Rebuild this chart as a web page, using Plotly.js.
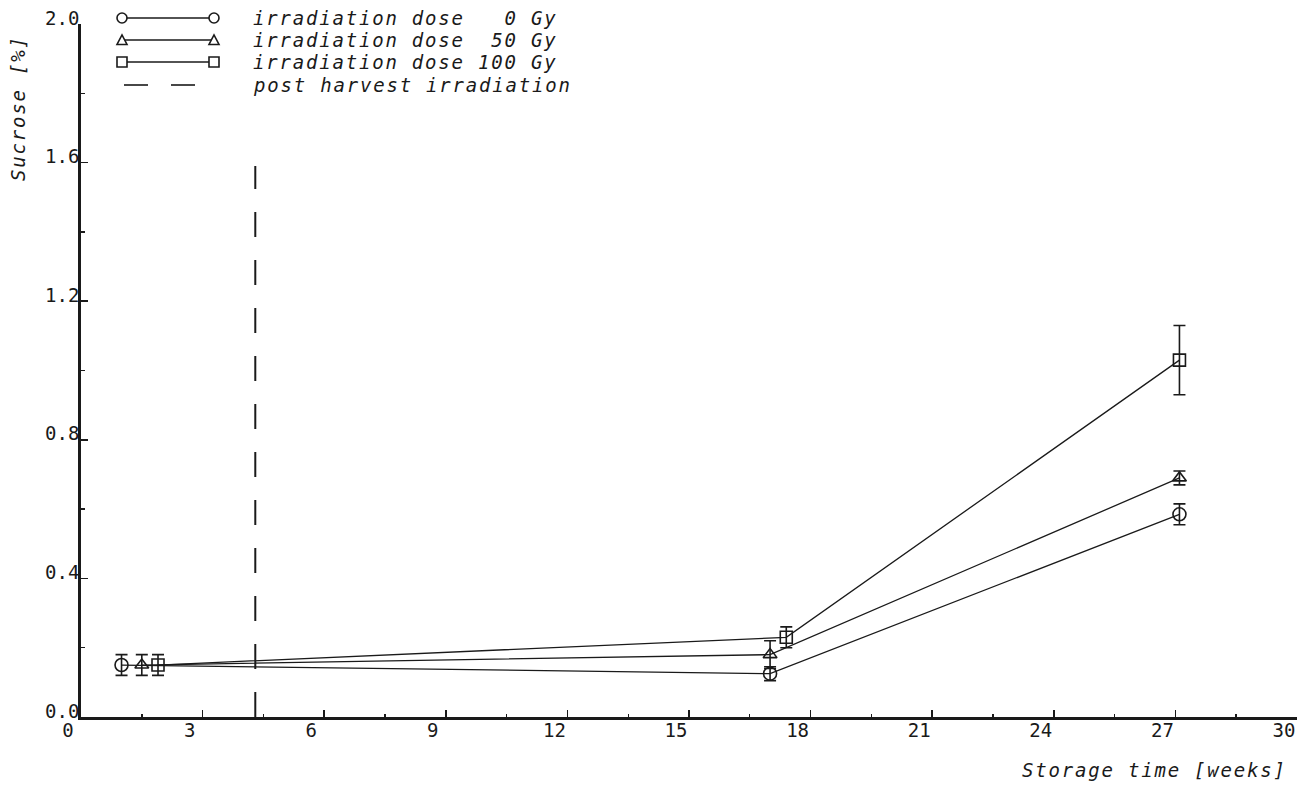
<!DOCTYPE html>
<html>
<head>
<meta charset="utf-8">
<script src="https://cdn.plot.ly/plotly-3.0.1.min.js"></script>
<style>
html,body{margin:0;padding:0;background:#fff;}
#chart{width:1309px;height:785px;}
.annotation-text{letter-spacing:1.8px;}
</style>
</head>
<body>
<div id="chart"></div>
<script>
// ---- data ----
var weeks0 = [1.0, 17.0, 27.1];
var sucrose0 = [0.15, 0.125, 0.585];
var err0 = [0.03, 0.02, 0.03];

var weeks50 = [1.5, 17.0, 27.1];
var sucrose50 = [0.15, 0.18, 0.69];
var err50 = [0.03, 0.04, 0.02];

var weeks100 = [1.9, 17.4, 27.1];
var sucrose100 = [0.15, 0.23, 1.03];
var err100 = [0.03, 0.03, 0.10];

var irradiationWeek = [4.3, 4.3];
var irradiationLine = [0, 1.59];

var seriesNames = ['irradiation dose\u00A0\u00A0\u00A00 Gy', 'irradiation dose\u00A0\u00A050 Gy', 'irradiation dose 100 Gy', 'post harvest irradiation'];
var xTicks = [0, 3, 6, 9, 12, 15, 18, 21, 24, 27, 30];
var yTicks = [0, 0.4, 0.8, 1.2, 1.6, 2.0];

// ---- layout helpers ----
var W = 1309, H = 785;
var M = {l: 81, r: 12, t: 24, b: 68};
var pw = W - M.l - M.r, ph = H - M.t - M.b;
function px(x) { return (x - M.l) / pw; }
function py(y) { return (H - M.b - y) / ph; }

var INK = '#1a1a1a';
var mono = '"DejaVu Sans Mono", "Liberation Mono", monospace';

function series(x, y, e, sym, size, name) {
  return {
    x: x, y: y, name: name, type: 'scatter', mode: 'lines+markers',
    line: {color: INK, width: 1.3},
    marker: {symbol: sym, size: size, color: INK, line: {color: INK, width: 1.6}},
    error_y: {type: 'data', array: e, visible: true, color: INK, thickness: 1.6, width: 6},
    showlegend: false, hoverinfo: 'x+y'
  };
}

var traces = [
  series(weeks0, sucrose0, err0, 'circle-open', 13, seriesNames[0]),
  series(weeks50, sucrose50, err50, 'triangle-up-open', 12, seriesNames[1]),
  series(weeks100, sucrose100, err100, 'square-open', 12, seriesNames[2]),
  {x: irradiationWeek, y: irradiationLine, type: 'scatter', mode: 'lines', name: seriesNames[3],
   line: {color: INK, width: 2, dash: '25px,23px'}, showlegend: false, hoverinfo: 'skip'}
];

// ---- custom legend (shapes + annotations) ----
var shapes = [];
var annotations = [];
var rows = [18, 40, 62, 85];
var lx0 = 122, lx1 = 214, tx = 251;
function markerShape(kind, cx, cy) {
  var r = 5;
  if (kind === 'circle') {
    return {type: 'circle', xref: 'paper', yref: 'paper', x0: px(cx - r), x1: px(cx + r), y0: py(cy + r), y1: py(cy - r), line: {color: INK, width: 1.6}, fillcolor: 'white'};
  } else if (kind === 'rect') {
    return {type: 'rect', xref: 'paper', yref: 'paper', x0: px(cx - r), x1: px(cx + r), y0: py(cy + r), y1: py(cy - r), line: {color: INK, width: 1.6}, fillcolor: 'white'};
  } else {
    var p = 'M' + px(cx - r) + ',' + py(cy + 4.5) + ' L' + px(cx + r) + ',' + py(cy + 4.5) + ' L' + px(cx) + ',' + py(cy - 5) + ' Z';
    return {type: 'path', xref: 'paper', yref: 'paper', path: p, line: {color: INK, width: 1.6}, fillcolor: 'white'};
  }
}
var kinds = ['circle', 'tri', 'rect'];
for (var i = 0; i < 3; i++) {
  shapes.push({type: 'line', xref: 'paper', yref: 'paper', x0: px(lx0), x1: px(lx1), y0: py(rows[i]), y1: py(rows[i]), line: {color: INK, width: 1.3}});
  shapes.push(markerShape(kinds[i], lx0, rows[i]));
  shapes.push(markerShape(kinds[i], lx1, rows[i]));
}
shapes.push({type: 'line', xref: 'paper', yref: 'paper', x0: px(124), x1: px(148), y0: py(rows[3]), y1: py(rows[3]), line: {color: INK, width: 1.6}});
shapes.push({type: 'line', xref: 'paper', yref: 'paper', x0: px(171), x1: px(195), y0: py(rows[3]), y1: py(rows[3]), line: {color: INK, width: 1.6}});
for (var j = 0; j < 4; j++) {
  annotations.push({xref: 'paper', yref: 'paper', x: px(tx), y: py(rows[j]), xanchor: 'left', yanchor: 'middle', showarrow: false,
    text: seriesNames[j], font: {family: mono, size: 19, color: INK, style: 'italic'}});
}
// axis titles
annotations.push({xref: 'paper', yref: 'paper', x: px(1020), y: py(770), xanchor: 'left', yanchor: 'middle', showarrow: false,
  text: 'Storage time [weeks]', font: {family: mono, size: 19, color: INK, style: 'italic'}});
annotations.push({xref: 'paper', yref: 'paper', x: px(18), y: py(108), xanchor: 'center', yanchor: 'middle', showarrow: false, textangle: -90,
  text: 'Sucrose [%]', font: {family: mono, size: 19, color: INK, style: 'italic'}});

var layout = {
  width: W, height: H,
  margin: M,
  paper_bgcolor: 'white', plot_bgcolor: 'white',
  showlegend: false,
  font: {family: mono, color: INK},
  xaxis: {
    range: [0, 30], tickvals: xTicks, ticktext: xTicks.map(String),
    ticks: 'inside', ticklen: 7, tickwidth: 1.6, tickcolor: INK,
    minor: {dtick: 1.5, tick0: 0, ticks: 'inside', ticklen: 3, tickwidth: 1.4, tickcolor: INK},
    showline: true, linewidth: 2.6, linecolor: INK, showgrid: false, zeroline: false,
    tickfont: {family: mono, size: 19, color: INK},
    ticklabelshift: -13, ticklabelstandoff: -5
  },
  yaxis: {
    range: [0, 2.0], tickvals: yTicks, ticktext: yTicks.map(function (v) { return v.toFixed(1); }),
    ticks: 'inside', ticklen: 7, tickwidth: 1.6, tickcolor: INK,
    minor: {dtick: 0.2, tick0: 0, ticks: 'inside', ticklen: 4, tickwidth: 1.4, tickcolor: INK},
    showline: true, linewidth: 2.8, linecolor: INK, showgrid: false, zeroline: false,
    tickfont: {family: mono, size: 19, color: INK},
    ticklabelshift: -6, ticklabelstandoff: -5
  },
  shapes: shapes,
  annotations: annotations
};

Plotly.newPlot('chart', traces, layout, {staticPlot: true, displayModeBar: false});
</script>
</body>
</html>
